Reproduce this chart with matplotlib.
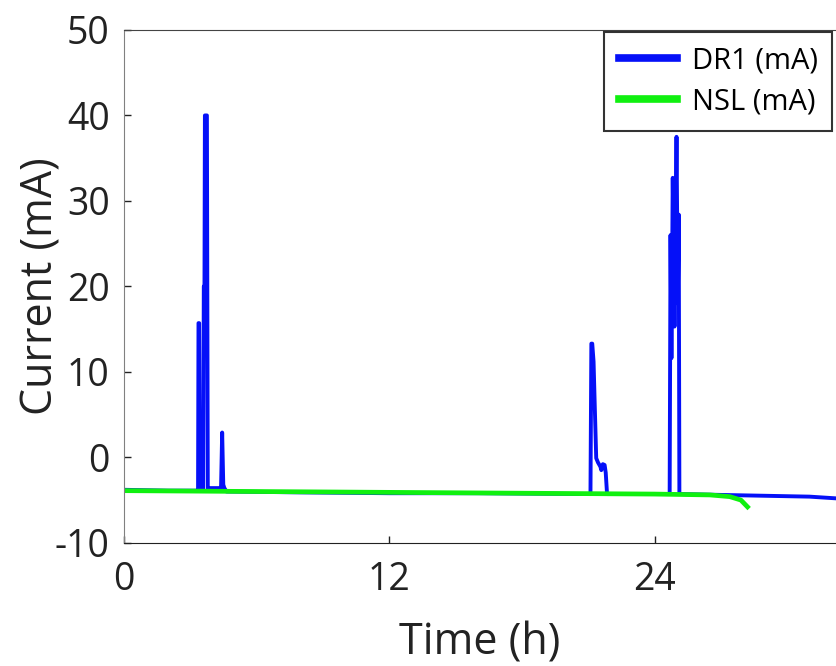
import matplotlib
matplotlib.use("Agg")
import matplotlib.pyplot as plt

# DR1 trace (h, mA)
dr1_t = [0.0, 2.0, 3.30, 3.36, 3.38, 3.41, 3.44, 3.48, 3.50, 3.52, 3.56,
         3.59, 3.62, 3.65, 3.67, 3.76, 3.80, 3.84, 4.0, 4.35, 4.40,
         4.45, 4.50, 4.55, 4.65,
         8.0, 12.0, 16.0, 21.10, 21.14, 21.18, 21.24, 21.29, 21.36, 21.44,
         21.55, 21.59, 21.66, 21.74, 21.79, 21.85, 21.90,
         24.68, 24.72, 24.76, 24.82, 24.90, 24.99, 25.05, 25.09, 25.12,
         25.20, 27.0, 29.0, 31.0, 32.2]
dr1_v = [-3.8, -3.9, -3.9, -3.9, 15.7, 15.7, -3.9, -3.9, 4.0, -3.9, -3.9,
         -3.9, 20.0, 20.0, 40.0, 40.0, -3.7, -3.6, -3.6, -3.6, -3.5,
         2.9, -3.2, -3.6, -4.0,
         -4.1, -4.2, -4.2, -4.3, 13.3, 13.3, 11.2, 6.4, -0.1, -0.6,
         -1.1, -1.5, -0.8, -0.9, -1.8, -4.3, -4.3,
         -4.3, 26.0, 11.6, 32.7, 15.3, 37.5, 18.0, 28.4, -4.3,
         -4.3, -4.4, -4.5, -4.6, -4.8]

# NSL trace
nsl_t = [0.0, 6.0, 12.0, 18.0, 24.0, 26.5, 27.4, 27.9, 28.2]
nsl_v = [-3.9, -4.0, -4.1, -4.2, -4.3, -4.4, -4.6, -5.0, -5.8]

plt.rcParams["font.family"] = ["Open Sans", "DejaVu Sans"]
plt.rcParams["axes.unicode_minus"] = False

fig = plt.figure(figsize=(8.36, 6.66), dpi=100)
ax = fig.add_axes([0.148, 0.185, 0.852, 0.770])

ax.plot(dr1_t, dr1_v, color="#0510f8", lw=2.8, label="DR1 (mA)")
ax.plot(nsl_t, nsl_v, color="#10f010", lw=3.4, label="NSL (mA)")

ax.set_xlim(0, 32.2)
ax.set_ylim(-10, 50)
ax.set_xticks([0, 12, 24])
ax.set_yticks([-10, 0, 10, 20, 30, 40, 50])
ax.tick_params(direction="in", length=5, width=1, labelsize=27,
               colors="#222222")
ax.tick_params(axis="x", pad=13)
ax.tick_params(axis="y", pad=10)
ax.set_xlabel("Time (h)", fontsize=31, color="#222222", labelpad=16)
ax.set_ylabel("Current (mA)", fontsize=31, color="#222222")
ax.yaxis.set_label_coords(-0.085, 0.5)

ax.spines["left"].set_color("#808080")
ax.spines["bottom"].set_color("#222222")
ax.spines["top"].set_color("#444444")
ax.spines["right"].set_visible(False)

leg = ax.legend(loc="upper right", fontsize=21, frameon=True, fancybox=False,
                edgecolor="black", handlelength=2.0, borderpad=0.5,
                labelspacing=0.4, handletextpad=0.5, borderaxespad=0,
                bbox_to_anchor=(0.995, 0.996))
leg.get_frame().set_linewidth(1.5)
for line in leg.get_lines():
    line.set_linewidth(5.5)

fig.savefig("out.png", dpi=100)
